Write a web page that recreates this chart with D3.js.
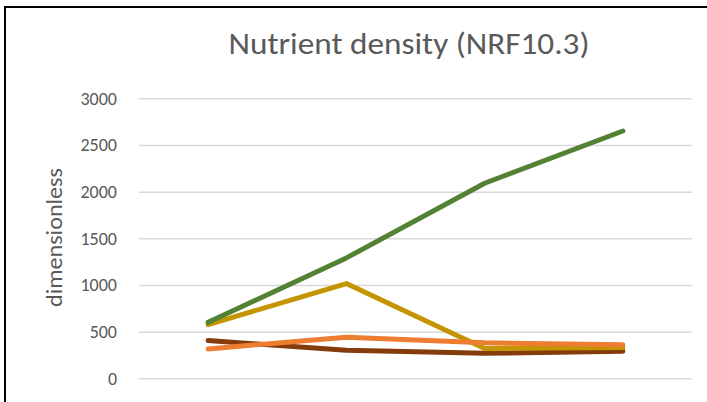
<!DOCTYPE html>
<html>
<head>
<meta charset="utf-8">
<script src="https://cdn.jsdelivr.net/npm/d3@7"></script>
<style>
  html, body { margin: 0; padding: 0; background: #fff; }
  svg { display: block; }
</style>
</head>
<body>
<svg id="chart" width="707" height="402"></svg>
<script>
// Categories along the x axis (labels fall below the visible frame)
const categories = ["1", "2", "3", "4"];

// Nutrient density scores per series
const seriesBrown  = [405, 300, 268, 290];
const seriesGold   = [575, 1015, 320, 330];
const seriesOrange = [315, 440, 380, 360];
const seriesGreen  = [600, 1290, 2090, 2650];

const yTicks = [0, 500, 1000, 1500, 2000, 2500, 3000];

const series = [
  { values: seriesBrown,  color: "#843C0C" },
  { values: seriesGold,   color: "#C49500" },
  { values: seriesOrange, color: "#ED7D31" },
  { values: seriesGreen,  color: "#548235" }
];

const svg = d3.select("#chart");
const W = 707, H = 402;
const plot = { left: 139, right: 692, top: 98.3, bottom: 378.3 };
const font = "Calibri, Carlito, Lato, 'Open Sans', sans-serif";

svg.append("rect").attr("width", W).attr("height", H).attr("fill", "#fff");

// Chart frame (top and left edges)
svg.append("line").attr("x1", 5).attr("x2", W).attr("y1", 7).attr("y2", 7)
  .attr("stroke", "#000").attr("stroke-width", 2);
svg.append("line").attr("x1", 5).attr("x2", 5).attr("y1", 6).attr("y2", H)
  .attr("stroke", "#000").attr("stroke-width", 2);

const x = d3.scaleBand().domain(categories).range([plot.left, plot.right]);
const y = d3.scaleLinear().domain([0, 3000]).range([plot.bottom, plot.top]);

// Gridlines + tick labels
const yAxis = d3.axisLeft(y)
  .tickValues(yTicks)
  .tickFormat(d3.format("d"))
  .tickSize(-(plot.right - plot.left))
  .tickPadding(22);
const gy = svg.append("g").attr("transform", `translate(${plot.left},0)`).call(yAxis);
gy.select(".domain").remove();
gy.selectAll(".tick line").attr("stroke", "#d9d9d9").attr("stroke-width", 1.5);
gy.selectAll(".tick text")
  .attr("fill", "#595959")
  .style("font-family", font)
  .style("font-size", "18px");

// Axis title
svg.append("text")
  .attr("transform", `translate(62,237.5) rotate(-90)`)
  .attr("text-anchor", "middle")
  .attr("fill", "#595959")
  .attr("textLength", 139)
  .attr("lengthAdjust", "spacingAndGlyphs")
  .style("font-family", font)
  .style("font-size", "22px")
  .text("dimensionless");

// Chart title
svg.append("text")
  .attr("x", 409).attr("y", 54)
  .attr("text-anchor", "middle")
  .attr("fill", "#595959")
  .attr("textLength", 361)
  .attr("lengthAdjust", "spacingAndGlyphs")
  .style("font-family", font)
  .style("font-size", "30px")
  .text("Nutrient density (NRF10.3)");

// Series lines
const line = d3.line()
  .x((d, i) => x(categories[i]) + x.bandwidth() / 2)
  .y(d => y(d));

svg.append("g").selectAll("path").data(series).join("path")
  .attr("d", s => line(s.values))
  .attr("fill", "none")
  .attr("stroke", s => s.color)
  .attr("stroke-width", 5)
  .attr("stroke-linecap", "round")
  .attr("stroke-linejoin", "round");
</script>
</body>
</html>
